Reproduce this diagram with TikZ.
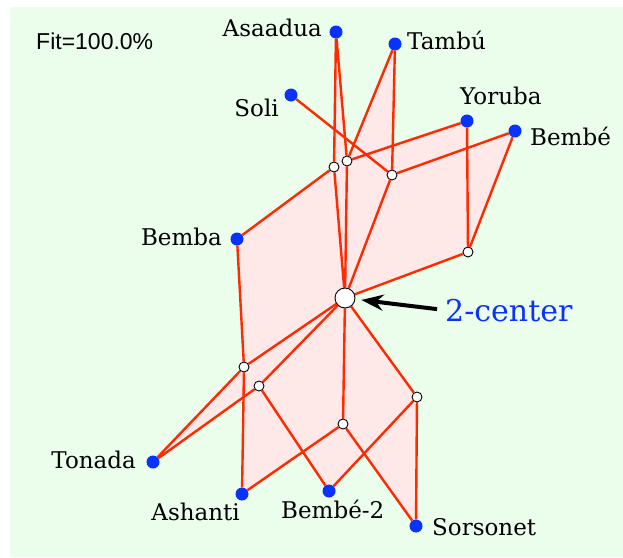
\documentclass[tikz,border=0pt]{standalone}
\usepackage{fontspec}
\usetikzlibrary{arrows.meta}
\newfontfamily\taxfont{DejaVu Serif}
\newfontfamily\fitfont{Liberation Sans}
\definecolor{meadow}{HTML}{EBFDEB}
\definecolor{splitred}{HTML}{FF2A00}
\definecolor{splitpink}{HTML}{FFE8E8}
\definecolor{taxblue}{HTML}{0A32FF}
\pgfdeclarelayer{ground}
\pgfdeclarelayer{back}
\pgfsetlayers{ground,back,main}

\begin{document}
\begin{tikzpicture}[
				x=1pt,y=-1pt,
				taxon/.style={
					circle,
					fill=taxblue,
					inner sep=0pt,
					minimum size=13pt
				},
				split/.style={
					circle,
					draw=black,
					line width=0.9pt,
					fill=white,
					inner sep=0pt,
					minimum size=10pt
				},
				hub/.style={split,minimum size=20pt},
				taxlbl/.style={inner sep=0pt,font=\taxfont\fontsize{23pt}{27pt}\selectfont},
				splitedge/.style={draw=splitred,line width=2.4pt},
				patch/.style={fill=splitpink},
				pointer/.style={-{Stealth[length=22pt,width=16pt]},line width=4pt,draw=black}
				]
				\useasboundingbox (0,0) rectangle (623,557);
				\begin{pgfonlayer}{ground}
					\fill[meadow] (10,7) rectangle (623,557);
				\end{pgfonlayer}
				
				% taxa
				\node[taxon] (asaadua) at (336,32) {};
				\node[taxon] (tambu) at (395,44) {};
				\node[taxon] (soli) at (291,95) {};
				\node[taxon] (yoruba) at (467,121) {};
				\node[taxon] (bembe) at (515,131) {};
				\node[taxon] (bemba) at (237,239) {};
				\node[taxon] (tonada) at (153,462) {};
				\node[taxon] (ashanti) at (242,494) {};
				\node[taxon] (bembetwo) at (329,491) {};
				\node[taxon] (sorsonet) at (416,526) {};
				
				% inner vertices
				\node[hub] (hub) at (345,298) {};
				\node[split] (s1) at (334,167) {};
				\node[split] (s2) at (347,161) {};
				\node[split] (s3) at (392,175) {};
				\node[split] (s4) at (468,252) {};
				\node[split] (s5) at (244,367) {};
				\node[split] (s6) at (259,386) {};
				\node[split] (s7) at (417,397) {};
				\node[split] (s8) at (343,424) {};
				
				% labels
				\node[taxlbl, anchor=base east] (asaaduaL) at (322,36) {Asaadua};
				\node[taxlbl, anchor=base west] (tambuL) at (407,49) {Tambú};
				\node[taxlbl, anchor=base east] (soliL) at (279,116) {Soli};
				\node[taxlbl, anchor=base west] (yorubaL) at (460,104) {Yoruba};
				\node[taxlbl, anchor=base west] (bembeL) at (530,145) {Bembé};
				\node[taxlbl, anchor=base east] (bembaL) at (222,245) {Bemba};
				\node[taxlbl, anchor=base east] (tonadaL) at (136,468) {Tonada};
				\node[taxlbl, anchor=base east] (ashantiL) at (240,520) {Ashanti};
				\node[taxlbl, anchor=base west] (bembetwoL) at (281,518) {Bembé-2};
				\node[taxlbl, anchor=base west] (sorsonetL) at (432,535) {Sorsonet};
				\node[inner sep=0pt, anchor=base west, text=taxblue, font=\taxfont\fontsize{30pt}{36pt}\selectfont] (hubL) at (445,321) {2-center};
				\node[inner sep=0pt, anchor=base west, font=\fitfont\fontsize{23pt}{28pt}\selectfont] (fit) at (36,49) {Fit=100.0\%};
				
				\begin{pgfonlayer}{back}
					\fill[patch] (asaadua.center) -- (s1.center) -- (hub.center) -- (s2.center) -- cycle;
					\fill[patch] (tambu.center) -- (s2.center) -- (hub.center) -- (s3.center) -- cycle;
					\fill[patch] (s2.center) -- (yoruba.center) -- (s4.center) -- (hub.center) -- cycle;
					\fill[patch] (s3.center) -- (bembe.center) -- (s4.center) -- (hub.center) -- cycle;
					\fill[patch] (bemba.center) -- (s1.center) -- (hub.center) -- (s5.center) -- cycle;
					\fill[patch] (tonada.center) -- (s5.center) -- (hub.center) -- (s6.center) -- cycle;
					\fill[patch] (s5.center) -- (ashanti.center) -- (s8.center) -- (hub.center) -- cycle;
					\fill[patch] (s6.center) -- (bembetwo.center) -- (s7.center) -- (hub.center) -- cycle;
					\fill[patch] (s8.center) -- (sorsonet.center) -- (s7.center) -- (hub.center) -- cycle;
					
					\draw[splitedge] (asaadua) -- (s1);
					\draw[splitedge] (asaadua) -- (s2);
					\draw[splitedge] (tambu) -- (s2);
					\draw[splitedge] (tambu) -- (s3);
					\draw[splitedge] (soli) -- (s3);
					\draw[splitedge] (s2) -- (yoruba);
					\draw[splitedge] (s3) -- (bembe);
					\draw[splitedge] (yoruba) -- (s4);
					\draw[splitedge] (bembe) -- (s4);
					\draw[splitedge] (s4) -- (hub);
					\draw[splitedge] (s1) -- (bemba);
					\draw[splitedge] (s1) -- (hub);
					\draw[splitedge] (s2) -- (hub);
					\draw[splitedge] (s3) -- (hub);
					\draw[splitedge] (bemba) -- (s5);
					\draw[splitedge] (s5) -- (hub);
					\draw[splitedge] (s5) -- (tonada);
					\draw[splitedge] (s5) -- (ashanti);
					\draw[splitedge] (s6) -- (hub);
					\draw[splitedge] (s6) -- (tonada);
					\draw[splitedge] (s6) -- (bembetwo);
					\draw[splitedge] (hub) -- (s8);
					\draw[splitedge] (s8) -- (ashanti);
					\draw[splitedge] (s8) -- (sorsonet);
					\draw[splitedge] (hub) -- (s7);
					\draw[splitedge] (s7) -- (bembetwo);
					\draw[splitedge] (s7) -- (sorsonet);
				\end{pgfonlayer}
				
				\draw[pointer, shorten <=8pt, shorten >=6pt] (hubL.west) -- (hub);
		\end{tikzpicture}
\end{document}
